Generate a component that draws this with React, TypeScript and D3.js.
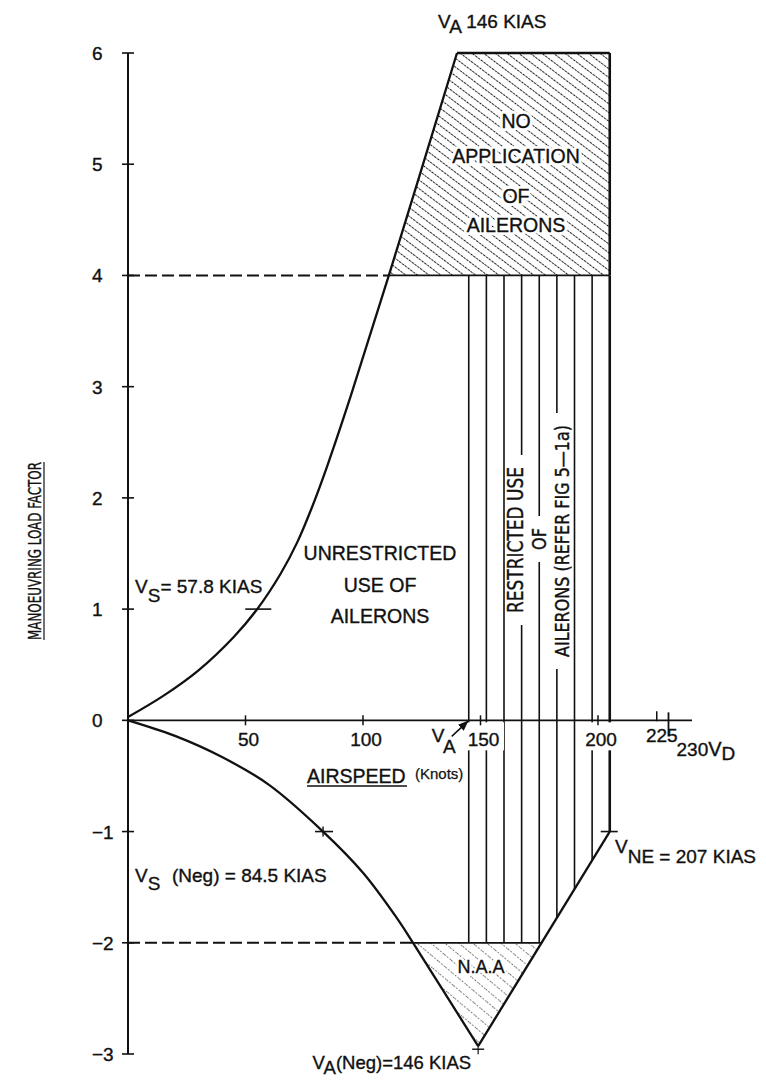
import React from "react";
import * as d3 from "d3";

const W = 766;
const H = 1080;

// ---- data ----
const yTickValues = [-3, -2, -1, 0, 1, 2, 3, 4, 5, 6];
const yTickLabels = ["−3", "−2", "−1", "0", "1", "2", "3", "4", "5", "6"];
const xTickValues = [50, 100, 150, 200];
const xTickLabels = ["50", "100", "150", "200"];
const tick225 = 225;
const tickVD = 230;

// positive manoeuvre boundary (airspeed knots, load factor)
const posSpeed = [0, 15, 30, 45, 55, 65, 72, 78, 85, 95, 111, 140];
const posLoad = [0.03, 0.22, 0.45, 0.75, 1.0, 1.32, 1.6, 1.9, 2.3, 2.93, 4.0, 6.0];
// negative manoeuvre boundary
const negSpeed = [0, 20, 40, 60, 83, 100, 114.5, 121.3, 149];
const negLoad = [0, -0.14, -0.33, -0.58, -1.0, -1.37, -1.78, -2.0, -2.93];

const vneSpeed = 205;
const vneLoad = -1;
const maxLoad = 6;
const aileronLimit = 4;
const negLimit = -2;
const vaSpeed = 145;
const vsSpeed = 55;
const vsNegSpeed = 83;
const restrictedSpeeds = [145, 152.5, 160, 167.5, 175, 182.5, 190, 197.5, 205];

const FONT = "'Liberation Sans', Arial, Helvetica, sans-serif";
const COND = "'DejaVu Sans Condensed', 'Liberation Sans Narrow', 'Liberation Sans', sans-serif";
const INK = "#111";
const TH = 0.35; // slight text thickening, like the scan

function speedAtLoad(pts: number[][], target: number): number {
  for (let i = 0; i < pts.length - 1; i++) {
    const [s0, l0] = pts[i];
    const [s1, l1] = pts[i + 1];
    if ((l0 - target) * (l1 - target) <= 0 && l0 !== l1) {
      return s0 + ((target - l0) * (s1 - s0)) / (l1 - l0);
    }
  }
  return pts[pts.length - 1][0];
}

export default function App() {
  const x = d3.scaleLinear().domain([0, 240]).range([128, 692]);
  const y = d3.scaleLinear().domain([-3, 6]).range([1054, 53]);
  const pos = posSpeed.map((s, i) => [s, posLoad[i]]);
  const neg = negSpeed.map((s, i) => [s, negLoad[i]]);
  const curve = d3
    .line<number[]>()
    .x((d) => x(d[0]))
    .y((d) => y(d[1]))
    .curve(d3.curveCatmullRom.alpha(0.5));
  const poly = d3
    .line<number[]>()
    .x((d) => x(d[0]))
    .y((d) => y(d[1]));

  const s4 = speedAtLoad(pos, aileronLimit);
  const sNeg2 = speedAtLoad(neg, negLimit);
  const vertex = neg[neg.length - 1];
  const slope = (vneLoad - vertex[1]) / (vneSpeed - vertex[0]);
  const rightLine = (s: number) => vertex[1] + (s - vertex[0]) * slope;
  const sRight2 = vertex[0] + (negLimit - vertex[1]) / slope;
  const lowerAt = (s: number) => Math.max(negLimit, rightLine(s));

  const noAppPoly = [[s4, aileronLimit], ...pos.filter((p) => p[1] > aileronLimit), [vneSpeed, maxLoad], [vneSpeed, aileronLimit]];
  const naaPoly = [[sNeg2, negLimit], ...neg.filter((p) => p[1] < negLimit), [sRight2, negLimit]];

  const y0 = y(0);
  const x0 = x(0);

  // vertical texts in restricted zone
  const vtexts = [
    { text: "RESTRICTED USE", line: 3, off: 1.5, cy: 540, len: 146, size: 21 },
    { text: "OF", line: 4, off: 6.5, cy: 539, len: 22, size: 19 },
    { text: "AILERONS (REFER FIG 5—1a)", line: 5, off: 12.5, cy: 541, len: 232, size: 20 },
  ];

  const labelOff = 3;
  const gapLabels = [150, 200];
  const noApp = [
    { t: "NO", yy: 128 },
    { t: "APPLICATION", yy: 163 },
    { t: "OF", yy: 203 },
    { t: "AILERONS", yy: 232 },
  ];

  return (
    <svg width={W} height={H} style={{ position: "absolute", left: 0, top: 0, background: "#fff" }} fontFamily={FONT}>
      <defs>
        <pattern id="hatch" width="7" height="7" patternUnits="userSpaceOnUse" patternTransform="rotate(37)">
          <line x1="0" y1="3.5" x2="7" y2="3.5" stroke="#222" strokeWidth="1" strokeDasharray="2.6 1" />
        </pattern>
        <pattern id="hatch2" width="9" height="9" patternUnits="userSpaceOnUse" patternTransform="rotate(40)">
          <line x1="0" y1="4.5" x2="9" y2="4.5" stroke="#555" strokeWidth="0.9" strokeDasharray="1.6 1.8" />
        </pattern>
        <marker id="arrow" viewBox="0 0 10 10" refX="9" refY="5" markerWidth="7" markerHeight="7" orient="auto">
          <path d="M0,1 L10,5 L0,9 z" fill={INK} />
        </marker>
      </defs>
      <rect x={0} y={0} width={W} height={H} fill="#fff" />

      {/* hatched areas */}
      <path d={poly(noAppPoly as number[][]) + "Z"} fill="url(#hatch)" stroke="none" />
      <path d={poly(naaPoly as number[][]) + "Z"} fill="url(#hatch2)" stroke="none" />

      {/* restricted vertical lines */}
      {restrictedSpeeds.map((s, i) => (
        <line
          key={"r" + i}
          x1={x(s)}
          x2={x(s)}
          y1={y(aileronLimit)}
          y2={y(lowerAt(s))}
          stroke={INK}
          strokeWidth={i === restrictedSpeeds.length - 1 ? 2.6 : 1.6}
        />
      ))}
      {/* gaps for vertical texts */}
      {vtexts.map((t, i) => (
        <rect
          key={"g" + i}
          x={x(restrictedSpeeds[t.line]) - 2.5}
          width={5}
          y={t.cy - t.len / 2 - 12}
          height={t.len + 24}
          fill="#fff"
        />
      ))}
      {/* gaps behind the 150 / 200 tick labels */}
      {gapLabels.map((v, i) => (
        <rect key={"gl" + i} x={x(v) + labelOff - 20.5} width={41} y={y0 + 2} height={28} fill="#fff" />
      ))}

      {/* dashed limits */}
      <line x1={x0} x2={x(s4)} y1={y(aileronLimit)} y2={y(aileronLimit)} stroke={INK} strokeWidth={2} strokeDasharray="12 5" />
      <line x1={x0} x2={x(sNeg2)} y1={y(negLimit)} y2={y(negLimit)} stroke={INK} strokeWidth={2} strokeDasharray="12 5" />

      {/* solid boundaries */}
      <line x1={x(s4)} x2={x(vneSpeed)} y1={y(aileronLimit)} y2={y(aileronLimit)} stroke={INK} strokeWidth={1.7} />
      <line x1={x(sNeg2)} x2={x(sRight2)} y1={y(negLimit)} y2={y(negLimit)} stroke={INK} strokeWidth={1.7} />
      <path d={curve(pos) || ""} fill="none" stroke={INK} strokeWidth={2.3} />
      <line x1={x(pos[pos.length - 1][0])} x2={x(vneSpeed)} y1={y(maxLoad)} y2={y(maxLoad)} stroke={INK} strokeWidth={2.3} />
      <line x1={x(vneSpeed)} x2={x(vneSpeed)} y1={y(maxLoad)} y2={y(aileronLimit)} stroke={INK} strokeWidth={2.6} />
      <path d={curve(neg) || ""} fill="none" stroke={INK} strokeWidth={2.3} />
      <line x1={x(vertex[0])} y1={y(vertex[1])} x2={x(vneSpeed)} y2={y(vneLoad)} stroke={INK} strokeWidth={2.3} />

      {/* y axis */}
      <line x1={x0} x2={x0} y1={y(6)} y2={y(-3)} stroke={INK} strokeWidth={2} />
      {yTickValues.map((v, i) => (
        <g key={"yt" + i}>
          <line x1={x0 - 6} x2={x0 + 6} y1={y(v)} y2={y(v)} stroke={INK} strokeWidth={1.6} />
          <text x={92} y={y(v) + 7} fontSize={19} fill={INK} stroke={INK} strokeWidth={TH}>
            {yTickLabels[i]}
          </text>
        </g>
      ))}

      {/* x axis */}
      <line x1={x0} x2={x(240)} y1={y0} y2={y0} stroke={INK} strokeWidth={1.6} />
      {xTickValues.map((v, i) => (
        <g key={"xt" + i}>
          <line x1={x(v)} x2={x(v)} y1={y0 - 5} y2={y0 + 5} stroke={INK} strokeWidth={1.5} />
          <text x={x(v) + labelOff} y={y0 + 26} fontSize={19} textAnchor="middle" fill={INK} stroke={INK} strokeWidth={TH}>
            {xTickLabels[i]}
          </text>
        </g>
      ))}
      <line x1={x(tick225)} x2={x(tick225)} y1={y0 - 9} y2={y0 + 1} stroke={INK} strokeWidth={1.5} />
      <text x={x(tick225) + 5} y={y0 + 22} fontSize={19} textAnchor="middle" fill={INK} stroke={INK} strokeWidth={TH}>
        225
      </text>
      <line x1={x(tickVD)} x2={x(tickVD)} y1={y0 - 8} y2={y0 + 16} stroke={INK} strokeWidth={1.8} />
      <text x={x(tickVD) + 8} y={y0 + 36} fontSize={19} fill={INK} stroke={INK} strokeWidth={TH}>
        230
        <tspan fontSize={20}>V</tspan>
        <tspan dy={4} fontSize={19}>D</tspan>
      </text>

      {/* markers on curves */}
      <line x1={x(vsSpeed) - 12} x2={x(vsSpeed) + 14} y1={y(1)} y2={y(1)} stroke={INK} strokeWidth={1.6} />
      <line x1={x(vsNegSpeed) - 8} x2={x(vsNegSpeed) + 10} y1={y(-1)} y2={y(-1)} stroke={INK} strokeWidth={1.6} />
      <line x1={x(vsNegSpeed)} x2={x(vsNegSpeed)} y1={y(-1) - 5} y2={y(-1) + 5} stroke={INK} strokeWidth={1.4} />
      <line x1={x(vneSpeed) - 9} x2={x(vneSpeed) + 8} y1={y(vneLoad)} y2={y(vneLoad)} stroke={INK} strokeWidth={1.6} />
      <line x1={x(vertex[0]) - 6} x2={x(vertex[0]) + 6} y1={y(vertex[1]) + 3} y2={y(vertex[1]) + 3} stroke={INK} strokeWidth={1.4} />
      <line x1={x(vertex[0])} x2={x(vertex[0])} y1={y(vertex[1]) - 2} y2={y(vertex[1]) + 8} stroke={INK} strokeWidth={1.2} />

      {/* V_A arrow */}
      <line x1={x(vaSpeed) - 17} y1={y0 + 16} x2={x(vaSpeed) - 1} y2={y0 + 1} stroke={INK} strokeWidth={1.5} markerEnd="url(#arrow)" />
      <text x={x(vaSpeed) - 37} y={y0 + 22} fontSize={19} fill={INK} stroke={INK} strokeWidth={TH}>
        V<tspan dy={11}>A</tspan>
      </text>

      {/* axis titles */}
      <text x={307} y={783} fontSize={19.5} fill={INK} stroke={INK} strokeWidth={TH}>
        AIRSPEED
      </text>
      <line x1={307} x2={407} y1={786} y2={786} stroke={INK} strokeWidth={1.3} />
      <text x={415} y={779} fontSize={15} fill={INK} stroke={INK} strokeWidth={0.25}>
        (Knots)
      </text>
      <g transform="translate(41,551) rotate(-90)">
        <text x={0} y={0} fontSize={18.5} fontFamily={COND} textAnchor="middle" textLength={178} lengthAdjust="spacingAndGlyphs" fill={INK} stroke={INK} strokeWidth={0.35}>
          MANOEUVRING LOAD FACTOR
        </text>
        <line x1={-89} x2={89} y1={3} y2={3} stroke={INK} strokeWidth={1.2} />
      </g>

      {/* vertical restricted texts */}
      {vtexts.map((t, i) => (
        <g key={"vt" + i} transform={`translate(${x(restrictedSpeeds[t.line]) + t.off},${t.cy}) rotate(-90)`}>
          <text x={0} y={0} fontSize={t.size} fontFamily={COND} textAnchor="middle" textLength={t.len} lengthAdjust="spacingAndGlyphs" fill={INK} stroke={INK} strokeWidth={0.4}>
            {t.text}
          </text>
        </g>
      ))}

      {/* annotations */}
      <text x={438} y={28} fontSize={19} fill={INK} stroke={INK} strokeWidth={TH}>
        V<tspan dy={5}>A</tspan>
        <tspan dy={-5}> 146 KIAS</tspan>
      </text>
      <g fontSize={19.5} textAnchor="middle" fill="#fff" stroke="#fff" strokeWidth={6} strokeLinejoin="round">
        {noApp.map((d, i) => (
          <text key={"nh" + i} x={516} y={d.yy}>
            {d.t}
          </text>
        ))}
      </g>
      <g fontSize={19.5} textAnchor="middle" fill={INK} stroke={INK} strokeWidth={TH}>
        {noApp.map((d, i) => (
          <text key={"nt" + i} x={516} y={d.yy}>
            {d.t}
          </text>
        ))}
      </g>
      <g fontSize={19.5} textAnchor="middle" fill={INK} stroke={INK} strokeWidth={TH}>
        <text x={380} y={560}>UNRESTRICTED</text>
        <text x={380} y={592}>USE OF</text>
        <text x={380} y={623}>AILERONS</text>
      </g>
      <text x={135} y={593} fontSize={19} fill={INK} stroke={INK} strokeWidth={TH}>
        V<tspan dy={9}>S</tspan>
        <tspan dy={-9}>= 57.8 KIAS</tspan>
      </text>
      <text x={135} y={882} fontSize={19} fill={INK} stroke={INK} strokeWidth={TH}>
        V<tspan dy={8}>S</tspan>
        <tspan dy={-8} x={172}>(Neg) = 84.5 KIAS</tspan>
      </text>
      <text x={615} y={853} fontSize={19} fill={INK} stroke={INK} strokeWidth={TH}>
        V<tspan dy={10}>NE = 207 KIAS</tspan>
      </text>
      <text x={481} y={973} fontSize={18} textAnchor="middle" fill="#fff" stroke="#fff" strokeWidth={5}>
        N.A.A
      </text>
      <text x={481} y={973} fontSize={18} textAnchor="middle" fill={INK} stroke={INK} strokeWidth={TH}>
        N.A.A
      </text>
      <text x={x(vertex[0]) - 7} y={1069} fontSize={18.5} textAnchor="end" fill={INK} stroke={INK} strokeWidth={TH}>
        V<tspan dy={5}>A</tspan>
        <tspan dy={-5}>(Neg)=146 KIAS</tspan>
      </text>
    </svg>
  );
}
